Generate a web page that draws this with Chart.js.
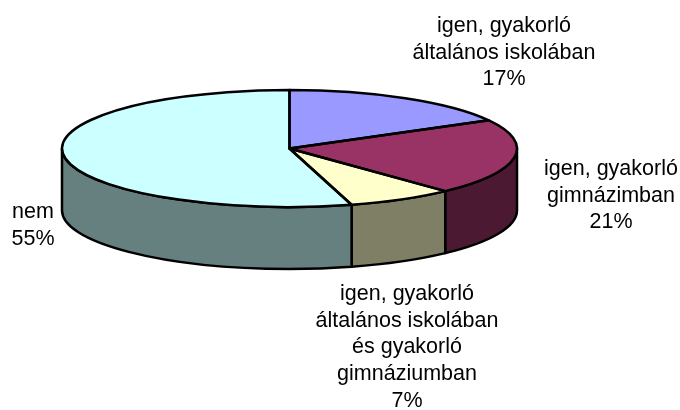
<!DOCTYPE html>
<html>
<head>
<meta charset="utf-8">
<script src="https://cdn.jsdelivr.net/npm/chart.js@4"></script>
<style>html,body{margin:0;padding:0;background:#fff}canvas{display:block}</style>
</head>
<body>
<canvas id="c" width="680" height="410"></canvas>
<script>
const categories = [
  ["igen, gyakorló", "általános iskolában"],
  ["igen, gyakorló", "gimnázimban"],
  ["igen, gyakorló", "általános iskolában", "és gyakorló", "gimnáziumban"],
  ["nem"]
];
const percentLabels = ["17%", "21%", "7%", "55%"];
const values = [17, 21, 7.6, 54.4];
const topColors = ["#9999FF", "#993366", "#FFFFCC", "#CCFFFF"];
const wallColors = ["#4C4C7F", "#4C1933", "#7F7F66", "#667F7F"];
const labelAnchors = [[504, 32], [611, 175], [407, 300], [33, 218]];

const pieGeom = { cx: 289.5, cy: 148.5, rx: 227.5, ry: 58.5, depth: 62 };

function applyTilt(ctx, arc) {
  const k = arc.outerRadius;
  ctx.translate(pieGeom.cx, pieGeom.cy);
  ctx.scale(pieGeom.rx / k, pieGeom.ry / k);
  ctx.translate(-arc.x, -arc.y);
}

const pie3d = {
  id: 'pie3d',
  beforeDatasetsDraw(chart) {
    const ctx = chart.ctx, g = pieGeom;
    const arcs = chart.getDatasetMeta(0).data;
    ctx.lineWidth = 2.5;
    ctx.strokeStyle = '#000';
    ctx.lineJoin = 'round';
    // front wall: the part of each slice's rim facing the viewer
    arcs.forEach((arc, i) => {
      let a = arc.startAngle, b = arc.endAngle;
      const two = Math.PI * 2;
      const segs = [[a, b], [a - two, b - two], [a + two, b + two]];
      segs.forEach(([s, e]) => {
        const from = Math.max(s, 0), to = Math.min(e, Math.PI);
        if (to <= from) return;
        ctx.beginPath();
        ctx.ellipse(g.cx, g.cy, g.rx, g.ry, 0, from, to);
        ctx.ellipse(g.cx, g.cy + g.depth, g.rx, g.ry, 0, to, from, true);
        ctx.closePath();
        ctx.fillStyle = wallColors[i];
        ctx.fill();
        ctx.stroke();
      });
    });
    ctx.save();
    applyTilt(ctx, arcs[0]);
  },
  afterDatasetsDraw(chart) {
    const ctx = chart.ctx, g = pieGeom;
    const arcs = chart.getDatasetMeta(0).data;
    ctx.restore();
    ctx.lineWidth = 2.5;
    ctx.strokeStyle = '#000';
    ctx.lineJoin = 'round';
    arcs.forEach(arc => {
      ctx.beginPath();
      ctx.moveTo(g.cx, g.cy);
      ctx.ellipse(g.cx, g.cy, g.rx, g.ry, 0, arc.startAngle, arc.endAngle);
      ctx.closePath();
      ctx.stroke();
    });
    ctx.fillStyle = '#000';
    ctx.font = '21.5px "Liberation Sans", Arial, sans-serif';
    ctx.textAlign = 'center';
    ctx.textBaseline = 'alphabetic';
    const lineStep = 26.7;
    categories.forEach((lines, i) => {
      const [x, y] = labelAnchors[i];
      [...lines, percentLabels[i]].forEach((t, n) => ctx.fillText(t, x, y + n * lineStep));
    });
  }
};

new Chart(document.getElementById('c'), {
  type: 'pie',
  data: {
    labels: categories.map(l => l.join(' ')),
    datasets: [{ data: values, backgroundColor: topColors, borderWidth: 0 }]
  },
  options: {
    responsive: false,
    animation: false,
    plugins: { legend: { display: false }, tooltip: { enabled: false } }
  },
  plugins: [pie3d]
});
</script>
</body>
</html>
